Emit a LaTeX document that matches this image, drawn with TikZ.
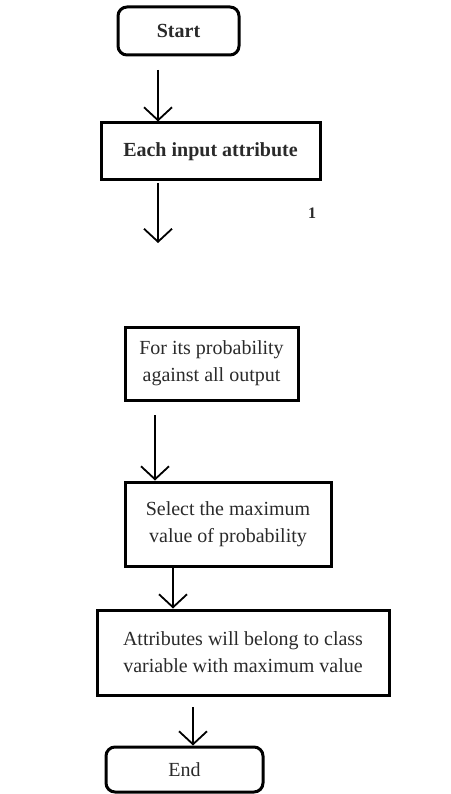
\documentclass[tikz,border=0pt]{standalone}
\usepackage{fontspec}
\setmainfont{Liberation Serif}
\usetikzlibrary{arrows.meta}
\definecolor{txt}{HTML}{2A2A2A}
\begin{document}
\begin{tikzpicture}[x=1pt,y=-1pt,
  box/.style={draw=black,line width=3pt,minimum width=#1,inner sep=0pt,align=center,
    text=txt,font=\fontsize{20}{27}\selectfont},
  term/.style={box=#1,rounded corners=9pt},
  arr/.style={line width=1.8pt,-{Straight Barb[length=13pt,width=28pt,line width=1.8pt]}}]
\useasboundingbox (0,0) rectangle (450,794);
\node[term=121pt,minimum height=48pt,font=\fontsize{20}{27}\selectfont\bfseries] (s) at (178.5,31) {Start};
\node[box=219pt,minimum height=57pt,font=\fontsize{20}{27}\selectfont\bfseries] (b2) at (210.5,151.5) {Each input attribute};
\node[box=173pt,minimum height=73pt] (b3) at (211.5,363.5) {For its probability\\against all output};
\node[box=206pt,minimum height=84pt] (b4) at (228,524) {Select the maximum\\value of probability};
\node[box=292pt,minimum height=85pt] (b5) at (243,652.5) {Attributes will belong to class\\variable with maximum value};
\node[term=157pt,minimum height=45pt] (e) at (184.5,769.5) {End};
\node[text=txt,font=\fontsize{16}{18}\selectfont\bfseries] (lbl) at (312,213) {1};
\coordinate (a1) at (158,70);
\coordinate (a2) at (158,183);
\coordinate (a2e) at (158,243);
\coordinate (a3) at (155,415);
\coordinate (a4) at (173,568);
\coordinate (a5) at (193,707);
\draw[arr] (a1) -- (a1 |- b2.north);
\draw[arr] (a2) -- (a2e);
\draw[arr] (a3) -- (a3 |- b4.north);
\draw[arr] (a4) -- (a4 |- b5.north);
\draw[arr] (a5) -- (a5 |- e.north);
\end{tikzpicture}
\end{document}
